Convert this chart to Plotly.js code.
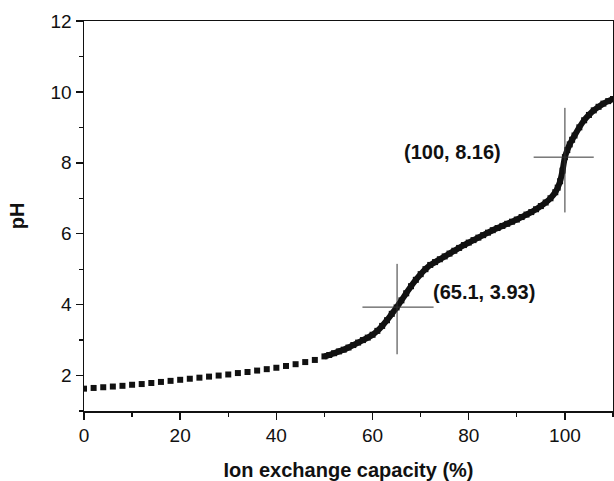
<!DOCTYPE html>
<html>
<head>
<meta charset="utf-8">
<script src="https://cdn.plot.ly/plotly-3.0.1.min.js"></script>
<style>html,body{margin:0;padding:0;background:#fff;}#chart{width:614px;height:481px;}</style>
</head>
<body>
<div id="chart"></div>
<script>
// Sparse region (squares every ~2 %)
const sparseX = [0,2,4,6,8,10,12,14,16,18,20,22,24,26,28,30,32,34,36,38,40,42,44,46,48];
const sparsePH = [1.63,1.65,1.67,1.69,1.71,1.74,1.76,1.79,1.82,1.85,1.88,1.91,1.94,1.97,2.0,2.03,2.07,2.1,2.14,2.18,2.22,2.27,2.32,2.38,2.44];

// Dense region (titration curve)
const denseX = [50,51,52,53,54,55,56,57,58,59,60,61,62,63,64,65,66,67,68,69,70,71,72,73,74,75,76,77,78,79,80,81,82,83,84,85,86,87,88,89,90,91,92,93,94,95,96,97,98,98.5,99,99.5,100,100.5,101,101.5,102,103,104,105,106,107,108,109,110];
const densePH = [2.54,2.58,2.63,2.68,2.73,2.79,2.86,2.93,3.0,3.07,3.15,3.26,3.4,3.56,3.74,3.92,4.12,4.32,4.52,4.7,4.86,5.0,5.12,5.2,5.28,5.36,5.44,5.52,5.6,5.68,5.75,5.82,5.89,5.96,6.03,6.1,6.16,6.22,6.28,6.34,6.4,6.47,6.54,6.61,6.69,6.78,6.88,7.0,7.17,7.3,7.48,7.78,8.16,8.36,8.52,8.65,8.77,9.0,9.2,9.35,9.48,9.58,9.67,9.74,9.8];

// Equivalence points
const eqX = [65.1, 100];
const eqPH = [3.93, 8.16];
const eqLabels = ['(65.1, 3.93)', '(100, 8.16)'];

const FONT = 'Arial, "Liberation Sans", sans-serif';

const traces = [
  {x: sparseX, y: sparsePH, mode: 'markers', type: 'scatter',
   marker: {symbol: 'square', size: 6, color: '#111'}, hoverinfo: 'skip'},
  {x: denseX, y: densePH, mode: 'lines+markers', type: 'scatter',
   line: {color: '#111', width: 6, shape: 'spline'},
   marker: {symbol: 'square', size: 6, color: '#111'}, hoverinfo: 'skip'}
];

const shapes = [
  {type:'line', xref:'x', yref:'y', x0:57.9, x1:72.7, y0:eqPH[0], y1:eqPH[0], line:{color:'#333', width:1}},
  {type:'line', xref:'x', yref:'y', x0:eqX[0], x1:eqX[0], y0:2.6, y1:5.15, line:{color:'#333', width:1}},
  {type:'line', xref:'x', yref:'y', x0:93.5, x1:106, y0:eqPH[1], y1:eqPH[1], line:{color:'#333', width:1}},
  {type:'line', xref:'x', yref:'y', x0:eqX[1], x1:eqX[1], y0:6.6, y1:9.55, line:{color:'#333', width:1}}
];

const annotations = [
  {x: 83.1, y: 4.37, xref:'x', yref:'y', text: eqLabels[0], showarrow:false,
   font:{family:FONT, size:20, color:'#111', weight:'bold'}},
  {x: 76.7, y: 8.31, xref:'x', yref:'y', text: eqLabels[1], showarrow:false,
   font:{family:FONT, size:20, color:'#111', weight:'bold'}}
];

const layout = {
  width: 614, height: 481,
  margin: {l: 84, r: 1, t: 21, b: 70},
  paper_bgcolor: '#fff', plot_bgcolor: '#fff',
  showlegend: false,
  font: {family: FONT, color: '#111'},
  shapes: shapes,
  annotations: annotations,
  xaxis: {
    range: [0, 110], dtick: 20, tick0: 0,
    showgrid: false, zeroline: false,
    showline: true, linecolor: '#111', linewidth: 1.5, mirror: true,
    ticks: 'outside', ticklen: 7, tickwidth: 1.5, tickcolor: '#111',
    minor: {ticks: 'outside', ticklen: 4, dtick: 10, tickwidth: 1.2, tickcolor: '#111'},
    tickfont: {family: FONT, size: 19, color: '#111'},
    title: {text: 'Ion exchange capacity (%)', font: {family: FONT, size: 20, color: '#111', weight: 'bold'}, standoff: 18}
  },
  yaxis: {
    range: [1, 12], dtick: 2, tick0: 0,
    showgrid: false, zeroline: false,
    showline: true, linecolor: '#111', linewidth: 1.5, mirror: true,
    ticks: 'outside', ticklen: 7, tickwidth: 1.5, tickcolor: '#111',
    minor: {ticks: 'outside', ticklen: 4, dtick: 1, tickwidth: 1.2, tickcolor: '#111'},
    tickfont: {family: FONT, size: 19, color: '#111'},
    title: {text: 'pH', font: {family: FONT, size: 20, color: '#111', weight: 'bold'}, standoff: 20}
  }
};

Plotly.newPlot('chart', traces, layout, {displayModeBar: false, staticPlot: true});
</script>
</body>
</html>
